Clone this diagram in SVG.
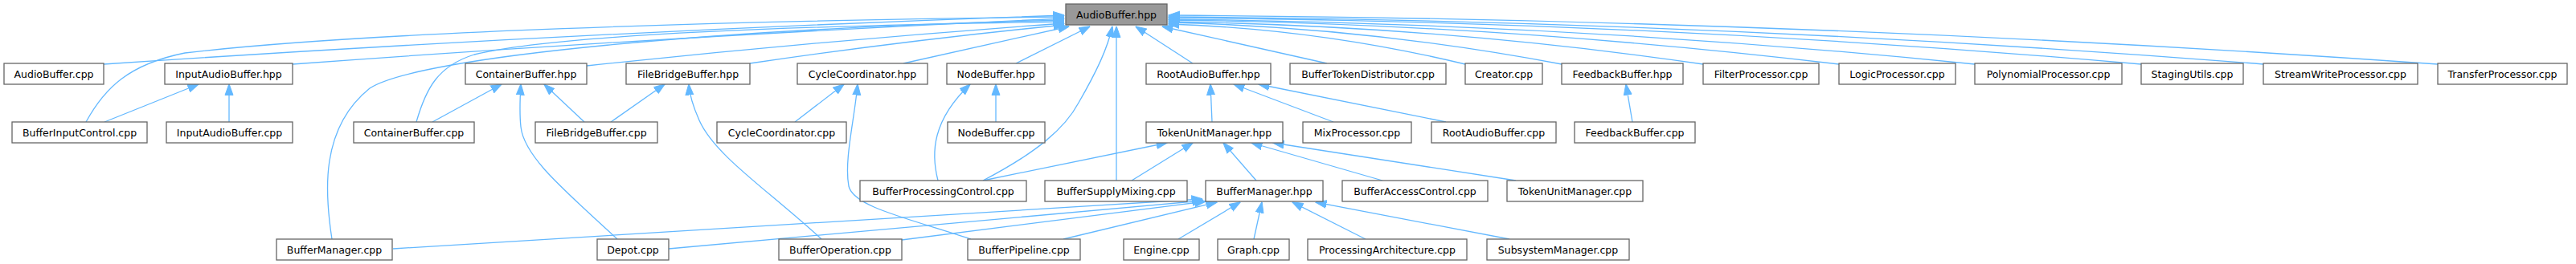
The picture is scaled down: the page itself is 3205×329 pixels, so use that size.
<svg xmlns="http://www.w3.org/2000/svg" width="3205" height="329" viewBox="0 0 3205 329">
<style>
.n rect{fill:#ffffff;stroke:#666666;stroke-width:1.3}
.root rect{fill:#999999}
.n text{font-family:"DejaVu Sans",sans-serif;font-size:12.5px;fill:#000;text-anchor:middle}
.e path{fill:none;stroke:#63b8ff;stroke-width:1.3;marker-end:url(#ah)}
</style>
<defs>
<marker id="ah" markerUnits="userSpaceOnUse" markerWidth="14" markerHeight="12" viewBox="0 0 14 12" refX="13.5" refY="6" orient="auto">
<path d="M0,1 L14,6 L0,11 z" fill="#63b8ff" stroke="#63b8ff" stroke-width="1"/>
</marker>
</defs>
<rect width="3205" height="329" fill="#ffffff"/>
<g id="edges" class="e">
<path d="M129,80 Q720,40 1324,19"/>
<path d="M107,152 C130,110 160,80 230,66 C450,40 900,26 1324,21"/>
<path d="M364,80 Q840,45 1324,23"/>
<path d="M413,298 C404,240 398,160 460,110 C520,70 900,35 1324,25"/>
<path d="M518,152 C530,110 545,82 590,68 C700,42 1000,32 1324,27"/>
<path d="M730,82 Q1030,50 1324,29"/>
<path d="M933,79 Q1130,50 1324,31"/>
<path d="M1124,79 L1330,33"/>
<path d="M1264,79 L1356,33"/>
<path d="M1223,225 C1290,190 1325,160 1342,128 C1365,88 1378,60 1384,33"/>
<path d="M1389,225 L1389,33"/>
<path d="M1484,79 L1413,33"/>
<path d="M1651,79 L1446,33"/>
<path d="M1823,80 Q1640,36 1454,30"/>
<path d="M1943,80 Q1700,34 1454,28"/>
<path d="M2119,80 Q1790,32 1454,27"/>
<path d="M2288,80 Q1870,30 1454,25"/>
<path d="M2457,80 Q1955,29 1454,24"/>
<path d="M2664,80 Q2060,27 1454,22"/>
<path d="M2816,80 Q2135,26 1454,21"/>
<path d="M3033,80 Q2243,24 1454,19"/>
<path d="M130,152 L247,105"/>
<path d="M285,152 L285,105"/>
<path d="M538,152 L624,105"/>
<path d="M727,152 L677,105"/>
<path d="M768,298 C700,235 652,195 648,158 C646,140 647,122 648,105"/>
<path d="M760,152 L827,105"/>
<path d="M1022,298 C960,240 890,195 870,150 C862,132 858,120 857,105"/>
<path d="M989,152 L1050,105"/>
<path d="M1208,298 C1130,272 1062,258 1056,232 C1050,200 1063,150 1067,105"/>
<path d="M1167,225 C1158,190 1160,150 1207,105"/>
<path d="M1239,152 L1239,105"/>
<path d="M1508,152 L1506,105"/>
<path d="M1659,152 L1535,105"/>
<path d="M1799,152 L1566,105"/>
<path d="M2031,152 L2023,105"/>
<path d="M1223,225 L1452,178"/>
<path d="M1408,225 L1484,178"/>
<path d="M1563,225 L1522,178"/>
<path d="M1720,225 L1557,178"/>
<path d="M1886,225 L1584,178"/>
<path d="M489,310 L1496,248"/>
<path d="M832,310 L1497,250"/>
<path d="M1122,299 L1500,251"/>
<path d="M1323,298 L1514,252"/>
<path d="M1466,298 L1543,252"/>
<path d="M1560,298 L1570,252"/>
<path d="M1699,298 L1608,252"/>
<path d="M1878,298 L1637,252"/>
</g>
<g id="AudioBuffer_hpp" class="n root"><rect x="1326" y="5" width="126" height="26"/><text x="1389" y="22.5">AudioBuffer.hpp</text></g>
<g id="AudioBuffer_cpp" class="n"><rect x="5" y="79" width="124" height="26"/><text x="67" y="96.5">AudioBuffer.cpp</text></g>
<g id="InputAudioBuffer_hpp" class="n"><rect x="205" y="79" width="159" height="26"/><text x="284.5" y="96.5">InputAudioBuffer.hpp</text></g>
<g id="ContainerBuffer_hpp" class="n"><rect x="579" y="79" width="151" height="26"/><text x="654.5" y="96.5">ContainerBuffer.hpp</text></g>
<g id="FileBridgeBuffer_hpp" class="n"><rect x="779" y="79" width="154" height="26"/><text x="856" y="96.5">FileBridgeBuffer.hpp</text></g>
<g id="CycleCoordinator_hpp" class="n"><rect x="992" y="79" width="162" height="26"/><text x="1073" y="96.5">CycleCoordinator.hpp</text></g>
<g id="NodeBuffer_hpp" class="n"><rect x="1178" y="79" width="122" height="26"/><text x="1239" y="96.5">NodeBuffer.hpp</text></g>
<g id="RootAudioBuffer_hpp" class="n"><rect x="1426" y="79" width="155" height="26"/><text x="1503.5" y="96.5">RootAudioBuffer.hpp</text></g>
<g id="BufferTokenDistributor_cpp" class="n"><rect x="1605" y="79" width="194" height="26"/><text x="1702" y="96.5">BufferTokenDistributor.cpp</text></g>
<g id="Creator_cpp" class="n"><rect x="1823" y="79" width="96" height="26"/><text x="1871" y="96.5">Creator.cpp</text></g>
<g id="FeedbackBuffer_hpp" class="n"><rect x="1943" y="79" width="151" height="26"/><text x="2018.5" y="96.5">FeedbackBuffer.hpp</text></g>
<g id="FilterProcessor_cpp" class="n"><rect x="2119" y="79" width="144" height="26"/><text x="2191" y="96.5">FilterProcessor.cpp</text></g>
<g id="LogicProcessor_cpp" class="n"><rect x="2288" y="79" width="145" height="26"/><text x="2360.5" y="96.5">LogicProcessor.cpp</text></g>
<g id="PolynomialProcessor_cpp" class="n"><rect x="2457" y="79" width="183" height="26"/><text x="2548.5" y="96.5">PolynomialProcessor.cpp</text></g>
<g id="StagingUtils_cpp" class="n"><rect x="2664" y="79" width="127" height="26"/><text x="2727.5" y="96.5">StagingUtils.cpp</text></g>
<g id="StreamWriteProcessor_cpp" class="n"><rect x="2816" y="79" width="192" height="26"/><text x="2912" y="96.5">StreamWriteProcessor.cpp</text></g>
<g id="TransferProcessor_cpp" class="n"><rect x="3033" y="79" width="161" height="26"/><text x="3113.5" y="96.5">TransferProcessor.cpp</text></g>
<g id="BufferInputControl_cpp" class="n"><rect x="15" y="152" width="168" height="26"/><text x="99" y="169.5">BufferInputControl.cpp</text></g>
<g id="InputAudioBuffer_cpp" class="n"><rect x="207" y="152" width="157" height="26"/><text x="285.5" y="169.5">InputAudioBuffer.cpp</text></g>
<g id="ContainerBuffer_cpp" class="n"><rect x="440" y="152" width="150" height="26"/><text x="515" y="169.5">ContainerBuffer.cpp</text></g>
<g id="FileBridgeBuffer_cpp" class="n"><rect x="666" y="152" width="152" height="26"/><text x="742" y="169.5">FileBridgeBuffer.cpp</text></g>
<g id="CycleCoordinator_cpp" class="n"><rect x="892" y="152" width="161" height="26"/><text x="972.5" y="169.5">CycleCoordinator.cpp</text></g>
<g id="NodeBuffer_cpp" class="n"><rect x="1179" y="152" width="121" height="26"/><text x="1239.5" y="169.5">NodeBuffer.cpp</text></g>
<g id="TokenUnitManager_hpp" class="n"><rect x="1426" y="152" width="170" height="26"/><text x="1511" y="169.5">TokenUnitManager.hpp</text></g>
<g id="MixProcessor_cpp" class="n"><rect x="1621" y="152" width="135" height="26"/><text x="1688.5" y="169.5">MixProcessor.cpp</text></g>
<g id="RootAudioBuffer_cpp" class="n"><rect x="1781" y="152" width="155" height="26"/><text x="1858.5" y="169.5">RootAudioBuffer.cpp</text></g>
<g id="FeedbackBuffer_cpp" class="n"><rect x="1959" y="152" width="150" height="26"/><text x="2034" y="169.5">FeedbackBuffer.cpp</text></g>
<g id="BufferProcessingControl_cpp" class="n"><rect x="1070" y="225" width="207" height="26"/><text x="1173.5" y="242.5">BufferProcessingControl.cpp</text></g>
<g id="BufferSupplyMixing_cpp" class="n"><rect x="1300" y="225" width="177" height="26"/><text x="1388.5" y="242.5">BufferSupplyMixing.cpp</text></g>
<g id="BufferManager_hpp" class="n"><rect x="1500" y="225" width="146" height="26"/><text x="1573" y="242.5">BufferManager.hpp</text></g>
<g id="BufferAccessControl_cpp" class="n"><rect x="1670" y="225" width="181" height="26"/><text x="1760.5" y="242.5">BufferAccessControl.cpp</text></g>
<g id="TokenUnitManager_cpp" class="n"><rect x="1875" y="225" width="169" height="26"/><text x="1959.5" y="242.5">TokenUnitManager.cpp</text></g>
<g id="BufferManager_cpp" class="n"><rect x="344" y="298" width="144" height="26"/><text x="416" y="315.5">BufferManager.cpp</text></g>
<g id="Depot_cpp" class="n"><rect x="743" y="298" width="89" height="26"/><text x="787.5" y="315.5">Depot.cpp</text></g>
<g id="BufferOperation_cpp" class="n"><rect x="969" y="298" width="153" height="26"/><text x="1045.5" y="315.5">BufferOperation.cpp</text></g>
<g id="BufferPipeline_cpp" class="n"><rect x="1204" y="298" width="140" height="26"/><text x="1274" y="315.5">BufferPipeline.cpp</text></g>
<g id="Engine_cpp" class="n"><rect x="1398" y="298" width="94" height="26"/><text x="1445" y="315.5">Engine.cpp</text></g>
<g id="Graph_cpp" class="n"><rect x="1515" y="298" width="89" height="26"/><text x="1559.5" y="315.5">Graph.cpp</text></g>
<g id="ProcessingArchitecture_cpp" class="n"><rect x="1627" y="298" width="198" height="26"/><text x="1726" y="315.5">ProcessingArchitecture.cpp</text></g>
<g id="SubsystemManager_cpp" class="n"><rect x="1850" y="298" width="177" height="26"/><text x="1938.5" y="315.5">SubsystemManager.cpp</text></g>
</svg>
